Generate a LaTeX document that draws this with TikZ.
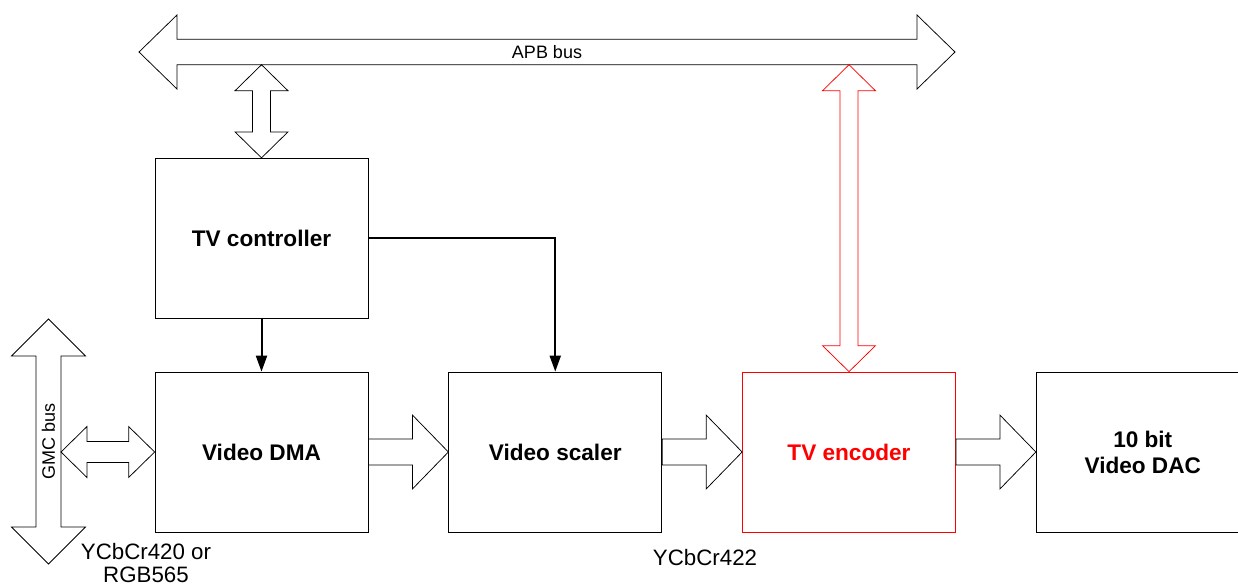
\documentclass[tikz,border=0pt]{standalone}
\usepackage{fontspec}
\setmainfont{Liberation Sans}
\usetikzlibrary{calc,arrows.meta,positioning}

% fat double arrow, horizontal: [style] left tip, right tip, shaft half, head half, head length
\newcommand{\hdbl}[6][]{%
  \draw[fat,#1] (#2) -- ($(#2)+(#6,-#5)$) -- ($(#2)+(#6,-#4)$) -- ($(#3)+(-#6,-#4)$)
    -- ($(#3)+(-#6,-#5)$) -- (#3) -- ($(#3)+(-#6,#5)$) -- ($(#3)+(-#6,#4)$)
    -- ($(#2)+(#6,#4)$) -- ($(#2)+(#6,#5)$) -- cycle;}
% fat double arrow, vertical: [style] top tip, bottom tip, shaft half, head half, head length
\newcommand{\vdbl}[6][]{%
  \draw[fat,#1] (#2) -- ($(#2)+(-#5,#6)$) -- ($(#2)+(-#4,#6)$) -- ($(#3)+(-#4,-#6)$)
    -- ($(#3)+(-#5,-#6)$) -- (#3) -- ($(#3)+(#5,-#6)$) -- ($(#3)+(#4,-#6)$)
    -- ($(#2)+(#4,#6)$) -- ($(#2)+(#5,#6)$) -- cycle;}
% fat single arrow to the right
\newcommand{\fatright}[2]{%
  \draw[fat] ($(#1)+(0,-13)$) -| ($(#2)+(-36,-37)$) -- (#2) -- ($(#2)+(-36,37)$)
    |- ($(#1)+(0,13)$) -- cycle;}

\begin{document}
\begin{tikzpicture}[
        x=1pt, y=-1pt,
        node distance=80pt,
        box/.style={draw, line width=0.75pt, minimum width=213pt, minimum height=160pt,
            inner sep=0pt, align=center, font=\fontsize{22.6}{26}\selectfont\bfseries},
        fat/.style={draw, fill=white, line width=0.75pt, line join=miter},
        ctl/.style={line width=2pt, -{Triangle[length=16pt,width=11pt]}},
        hot/.style={draw=red, text=red},
        buslbl/.style={inner sep=0pt, font=\fontsize{18}{20}\selectfont},
        lbl/.style={inner sep=0pt, align=center, font=\fontsize{22.3}{23}\selectfont}
    ]

        \clip (0,0) rectangle (1238,587);

        % Blocks
        \node[box] (dma) at (261.5,452) {Video DMA};
        \node[box, right=of dma] (scaler) {Video scaler};
        \node[box, hot, right=of scaler] (enc) {TV encoder};
        \node[box, right=of enc] (dac) {10 bit\\Video DAC};
        \node[box, above=53pt of dma] (ctrl) {TV controller};

        % APB bus
        \coordinate (apbL) at (139,52);
        \coordinate (apbR) at (955,52);
        \hdbl{apbL}{apbR}{12.75}{37}{38}
        \node[buslbl] (apb) at ($(apbL)!0.5!(apbR)$) {APB bus};

        % GMC bus
        \coordinate (gmcT) at (48.5,319);
        \coordinate (gmcB) at (48.5,564);
        \vdbl{gmcT}{gmcB}{12.5}{37}{37}
        \node[buslbl, rotate=90] (gmc) at ($(gmcT)!0.5!(gmcB)$) {GMC bus};

        % Bus ports
        \coordinate (apbC) at ($(ctrl.north |- apbL)+(0,12.75)$);
        \coordinate (apbE) at ($(enc.north |- apbL)+(0,12.75)$);
        \coordinate (gmcD) at ($(gmcT |- dma.west)+(12.5,0)$);
        \vdbl{apbC}{ctrl.north}{9}{26.5}{26}
        \vdbl[hot]{apbE}{enc.north}{9}{26.5}{26}
        \hdbl{gmcD}{dma.west}{10.5}{25.5}{26}

        % Video data path
        \fatright{dma.east}{scaler.west}
        \fatright{scaler.east}{enc.west}
        \fatright{enc.east}{dac.west}

        % Control
        \draw[ctl] (ctrl.south) -- (ctrl.south |- dma.north);
        \draw[ctl] (ctrl.east) -| (scaler.north);

        % Pixel formats
        \node[lbl] (fmtin) at (146,563) {YCbCr420 or\\RGB565};
        \node[lbl] (fmtout) at (705,558) {YCbCr422};

    \end{tikzpicture}
\end{document}
